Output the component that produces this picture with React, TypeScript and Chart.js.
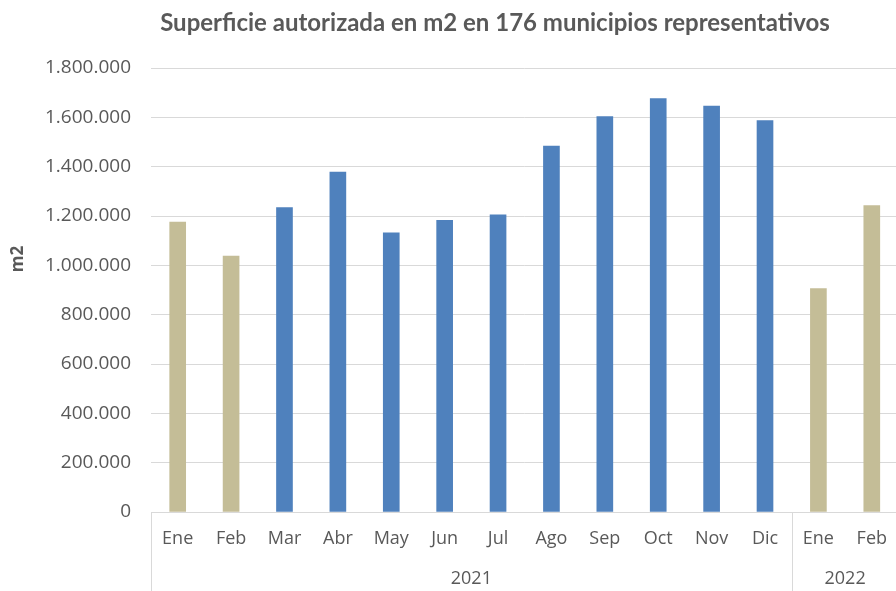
import React, { useEffect, useRef } from "react";
import { Chart, registerables } from "chart.js";

Chart.register(...registerables);

const titleText = "Superficie autorizada en m2 en 176 municipios representativos";
const yAxisTitle = "m2";
const months = ["Ene", "Feb", "Mar", "Abr", "May", "Jun", "Jul", "Ago", "Sep", "Oct", "Nov", "Dic", "Ene", "Feb"];
const years = ["2021", "2022"];
const yearGroupSizes = [12, 2];
const values = [1175000, 1038000, 1234000, 1378000, 1132000, 1182000, 1205000, 1483000, 1603000, 1676000, 1646000, 1587000, 906000, 1242000];
const highlightMonths = ["Ene", "Feb"];
const yMax = 1800000;
const yStep = 200000;

const TAN = "#C4BD97";
const BLUE = "#4F81BD";
const TEXT = "#595959";
const GRID = "#D9D9D9";

const fmt = (v: number) => String(v).replace(/\B(?=(\d{3})+(?!\d))/g, ".");

const decorPlugin = {
  id: "decor",
  afterDraw(chart: any) {
    const ctx = chart.ctx;
    const xs = chart.scales.x;
    const area = chart.chartArea;
    const H = chart.height;
    ctx.save();
    // title
    let size = 22;
    ctx.font = `bold ${size}px Lato`;
    const w = ctx.measureText(titleText).width;
    size = Math.min(24, size * (686 / w));
    ctx.font = `bold ${size}px Lato`;
    ctx.fillStyle = TEXT;
    ctx.textAlign = "center";
    ctx.textBaseline = "middle";
    ctx.fillText(titleText, 495, 23);
    // y title
    ctx.save();
    ctx.translate(18, 259);
    ctx.rotate(-Math.PI / 2);
    ctx.font = "bold 17px 'Open Sans'";
    ctx.fillText(yAxisTitle, 0, 0);
    ctx.restore();
    // group separators and year labels
    const half = (xs.getPixelForValue(1) - xs.getPixelForValue(0)) / 2;
    ctx.strokeStyle = GRID;
    ctx.lineWidth = 1;
    ctx.font = "18px 'Open Sans'";
    let start = 0;
    years.forEach((yr, gi) => {
      const end = start + yearGroupSizes[gi] - 1;
      const left = xs.getPixelForValue(start) - half;
      const right = xs.getPixelForValue(end) + half;
      const lx = Math.round(left) + 0.5;
      ctx.beginPath();
      ctx.moveTo(lx, area.bottom);
      ctx.lineTo(lx, H);
      ctx.stroke();
      ctx.fillStyle = TEXT;
      ctx.fillText(yr, (left + right) / 2, 579);
      start = end + 1;
    });
    ctx.restore();
  },
};

export default function App() {
  const ref = useRef<HTMLCanvasElement>(null);
  useEffect(() => {
    if (!ref.current) return;
    const chart = new Chart(ref.current, {
      type: "bar",
      data: {
        labels: months,
        datasets: [
          {
            data: values,
            backgroundColor: months.map((m) => (highlightMonths.includes(m) ? TAN : BLUE)),
            barThickness: 16,
          },
        ],
      },
      options: {
        responsive: false,
        animation: false,
        devicePixelRatio: 1,
        layout: { padding: { top: 68, left: 0, right: 0, bottom: 0 } },
        plugins: {
          legend: { display: false },
          title: { display: false },
          tooltip: { enabled: false },
        },
        scales: {
          x: {
            offset: true,
            grid: { display: false, drawTicks: false },
            border: { display: true, color: GRID, width: 1 },
            ticks: {
              color: TEXT,
              font: { family: "'Open Sans'", size: 18 },
              padding: 16,
              maxRotation: 0,
              autoSkip: false,
            },
            afterFit: (s: any) => {
              s.height = 79;
            },
          },
          y: {
            min: 0,
            max: yMax,
            grid: { color: GRID, drawTicks: false },
            border: { display: false },
            ticks: {
              stepSize: yStep,
              color: TEXT,
              font: { family: "'Open Sans'", size: 19 },
              padding: 20,
              callback: (v: any) => fmt(Number(v)),
            },
            afterFit: (s: any) => {
              s.width = 151;
            },
          },
        },
      },
      plugins: [decorPlugin],
    });
    return () => chart.destroy();
  }, []);
  return (
    <div style={{ position: "absolute", left: 0, top: 0, width: 896, height: 591, overflow: "hidden", background: "#fff" }}>
      <canvas ref={ref} width={903} height={591} style={{ width: 903, height: 591, display: "block" }} />
    </div>
  );
}
